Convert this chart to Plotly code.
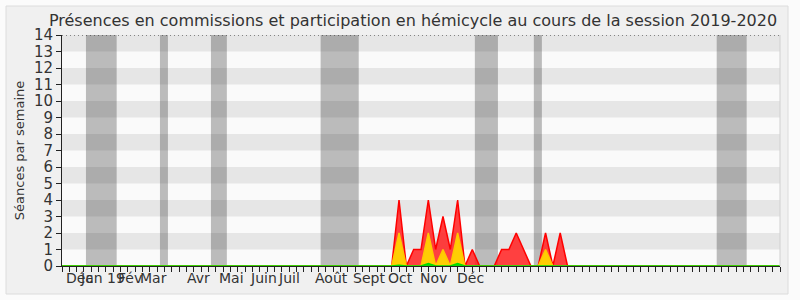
import plotly.graph_objects as go

# ---- data ----
weeks = list(range(0, 99))

hemicycle = [0]*45 + [0, 4, 0, 1, 1, 4, 1, 3, 1, 4, 0, 1, 0, 0, 0, 1, 1, 2, 1, 0, 0, 2, 0, 2, 0] + [0]*29
commission = [0]*45 + [0, 2, 0, 0, 0, 2, 0, 1, 0, 2, 0, 0, 0, 0, 0, 0, 0, 0, 0, 0, 0, 1, 0, 0, 0] + [0]*29
autre = [0]*45 + [0, 0.05, 0, 0, 0, 0.15, 0, 0, 0, 0.15, 0, 0, 0, 0, 0, 0, 0, 0, 0, 0, 0, 0, 0, 0, 0] + [0]*29

vacances_debut = [3.27, 13.37, 20.33, 35.3, 56.35, 64.4, 89.36]
vacances_fin = [7.46, 14.46, 22.5, 40.5, 59.5, 65.5, 93.45]

month_labels = ["Déc", "Jan 19", "Fév", "Mar", "Avr", "Mai", "Juin", "Juil",
                "Août", "Sept", "Oct", "Nov", "Déc"]
month_pos = [2.32, 5.59, 9.28, 12.55, 18.69, 23.19, 27.56, 30.97,
             36.83, 41.88, 46.25, 50.75, 55.8]

title = "Présences en commissions et participation en hémicycle au cours de la session 2019-2020"
ytitle = "Séances par semaine"

FONT = "DejaVu Sans"

fig = go.Figure()

fig.add_trace(go.Scatter(x=weeks, y=hemicycle, mode="lines", fill="tozeroy",
                         line=dict(color="#FF0000", width=1.5),
                         fillcolor="rgba(255,30,30,0.85)", hoverinfo="skip"))
fig.add_trace(go.Scatter(x=weeks, y=commission, mode="lines", fill="tozeroy",
                         line=dict(color="#FFC800", width=1.5),
                         fillcolor="rgba(255,214,0,0.95)", hoverinfo="skip"))
fig.add_trace(go.Scatter(x=weeks, y=autre, mode="lines", fill="tozeroy",
                         line=dict(color="#00DD00", width=1.5),
                         fillcolor="rgba(0,220,0,0.9)", hoverinfo="skip"))

def px_x(p):
    return (p - 62) / 718

def px_y(p):
    return (266 - p) / 231

shapes = []
# white surroundings outside the frame
for (a, b, c, d) in [(0, 800, 0, 6), (0, 800, 294, 300), (0, 6, 0, 300), (788, 800, 0, 300)]:
    shapes.append(dict(type="rect", xref="paper", yref="paper",
                       x0=px_x(a), x1=px_x(b), y0=px_y(d), y1=px_y(c),
                       line=dict(width=0), fillcolor="#FBFBFB", layer="below"))
# outer frame border
shapes.append(dict(type="rect", xref="paper", yref="paper",
                   x0=px_x(6), x1=px_x(788), y0=px_y(294), y1=px_y(6),
                   line=dict(color="#DCDCDC", width=1), fillcolor="rgba(0,0,0,0)", layer="below"))
# stripes
for k in range(1, 14, 2):
    shapes.append(dict(type="rect", xref="x domain", yref="y", x0=0, x1=1, y0=k, y1=k+1,
                       line=dict(width=0), fillcolor="#E6E6E6", layer="below"))
# vacation bands
for a, b in zip(vacances_debut, vacances_fin):
    shapes.append(dict(type="rect", xref="x", yref="y domain", x0=a, x1=b, y0=0, y1=1,
                       line=dict(width=0), fillcolor="rgba(0,0,0,0.25)", layer="below"))
# dotted top line
shapes.append(dict(type="line", xref="x domain", yref="y", x0=0, x1=1, y0=14, y1=14,
                   line=dict(color="#222222", width=1, dash="1px,3px"), layer="above"))
# right border of plot
shapes.append(dict(type="line", xref="x domain", yref="y domain", x0=1, x1=1, y0=0, y1=1,
                   line=dict(color="#D0D0D0", width=1), layer="above"))

annotations = []
for lab, p in zip(month_labels, month_pos):
    annotations.append(dict(text=lab, x=p, xref="x", y=px_y(278), yref="paper",
                            showarrow=False, xanchor="center", yanchor="middle",
                            font=dict(family=FONT, size=14, color="#333333")))

fig.update_layout(
    width=800, height=300, autosize=False,
    margin=dict(l=62, r=20, t=35, b=34),
    paper_bgcolor="#F0F0F0", plot_bgcolor="#FAFAFA",
    showlegend=False,
    title=dict(text=title, x=px_x(413), xref="paper", xanchor="center",
               y=(300-20)/300, yref="container", yanchor="middle",
               font=dict(family=FONT, size=16, color="#333333")),
    shapes=shapes, annotations=annotations,
    xaxis=dict(range=[0, 98], tickmode="linear", tick0=0, dtick=1, showticklabels=False,
               ticks="outside", ticklen=5, tickcolor="#222222", tickwidth=1,
               showline=True, linecolor="#222222", linewidth=1,
               showgrid=False, zeroline=False, fixedrange=True),
    yaxis=dict(range=[0, 14], tickmode="linear", tick0=0, dtick=1,
               ticks="outside", ticklen=5, tickcolor="#222222", tickwidth=1,
               showline=True, linecolor="#222222", linewidth=1,
               showgrid=False, zeroline=False,
               tickfont=dict(family=FONT, size=15, color="#333333"),
               title=dict(text=ytitle, standoff=6,
                          font=dict(family=FONT, size=13, color="#333333"))),
    font=dict(family=FONT, color="#333333"),
)

fig.write_html("out.html")
